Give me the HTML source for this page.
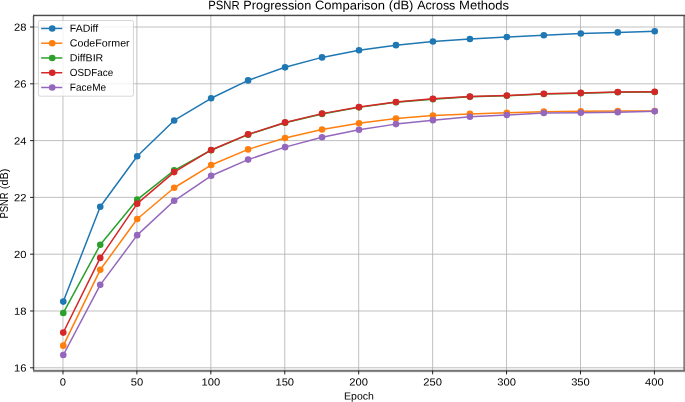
<!DOCTYPE html>
<html><head><meta charset="utf-8"><style>
html,body{margin:0;padding:0;background:#fff;width:685px;height:402px;overflow:hidden}
svg{display:block;will-change:transform;font-family:"Liberation Sans",sans-serif}
text{fill:#000}
</style></head><body>
<svg width="685" height="402" viewBox="0 0 685 402">
<rect width="685" height="402" fill="#fff"/>
<path d="M62.97 15.07V371.20M136.90 15.07V371.20M210.84 15.07V371.20M284.77 15.07V371.20M358.70 15.07V371.20M432.63 15.07V371.20M506.56 15.07V371.20M580.50 15.07V371.20M654.43 15.07V371.20M33.40 367.79H684.00M33.40 310.99H684.00M33.40 254.19H684.00M33.40 197.39H684.00M33.40 140.60H684.00M33.40 83.80H684.00M33.40 27.00H684.00" stroke="#b0b0b0" stroke-opacity="1.0" stroke-width="0.8" fill="none"/>
<polyline points="63.27,301.62 100.24,206.77 137.20,156.22 174.17,120.43 211.14,98.28 248.10,80.39 285.07,67.33 322.03,57.39 359.00,50.29 395.97,45.17 432.93,41.48 469.90,38.93 506.86,36.94 543.83,35.23 580.80,33.53 617.76,32.39 654.73,31.26" fill="none" stroke="#1f77b4" stroke-width="1.5" stroke-linejoin="round" stroke-linecap="square"/>
<g fill="#1f77b4"><circle cx="63.27" cy="301.62" r="3.3"/><circle cx="100.24" cy="206.77" r="3.3"/><circle cx="137.20" cy="156.22" r="3.3"/><circle cx="174.17" cy="120.43" r="3.3"/><circle cx="211.14" cy="98.28" r="3.3"/><circle cx="248.10" cy="80.39" r="3.3"/><circle cx="285.07" cy="67.33" r="3.3"/><circle cx="322.03" cy="57.39" r="3.3"/><circle cx="359.00" cy="50.29" r="3.3"/><circle cx="395.97" cy="45.17" r="3.3"/><circle cx="432.93" cy="41.48" r="3.3"/><circle cx="469.90" cy="38.93" r="3.3"/><circle cx="506.86" cy="36.94" r="3.3"/><circle cx="543.83" cy="35.23" r="3.3"/><circle cx="580.80" cy="33.53" r="3.3"/><circle cx="617.76" cy="32.39" r="3.3"/><circle cx="654.73" cy="31.26" r="3.3"/></g>
<polyline points="63.27,345.64 100.24,269.81 137.20,218.98 174.17,187.74 211.14,165.02 248.10,149.40 285.07,138.04 322.03,129.52 359.00,123.27 395.97,118.44 432.93,115.60 469.90,113.90 506.86,112.76 543.83,111.63 580.80,111.34 617.76,111.06 654.73,111.06" fill="none" stroke="#ff7f0e" stroke-width="1.5" stroke-linejoin="round" stroke-linecap="square"/>
<g fill="#ff7f0e"><circle cx="63.27" cy="345.64" r="3.3"/><circle cx="100.24" cy="269.81" r="3.3"/><circle cx="137.20" cy="218.98" r="3.3"/><circle cx="174.17" cy="187.74" r="3.3"/><circle cx="211.14" cy="165.02" r="3.3"/><circle cx="248.10" cy="149.40" r="3.3"/><circle cx="285.07" cy="138.04" r="3.3"/><circle cx="322.03" cy="129.52" r="3.3"/><circle cx="359.00" cy="123.27" r="3.3"/><circle cx="395.97" cy="118.44" r="3.3"/><circle cx="432.93" cy="115.60" r="3.3"/><circle cx="469.90" cy="113.90" r="3.3"/><circle cx="506.86" cy="112.76" r="3.3"/><circle cx="543.83" cy="111.63" r="3.3"/><circle cx="580.80" cy="111.34" r="3.3"/><circle cx="617.76" cy="111.06" r="3.3"/><circle cx="654.73" cy="111.06" r="3.3"/></g>
<polyline points="63.27,312.98 100.24,244.82 137.20,199.67 174.17,170.42 211.14,150.25 248.10,134.63 285.07,122.70 322.03,113.90 359.00,107.37 395.97,102.26 432.93,99.13 469.90,96.86 506.86,95.72 543.83,94.02 580.80,93.17 617.76,92.32 654.73,92.03" fill="none" stroke="#2ca02c" stroke-width="1.5" stroke-linejoin="round" stroke-linecap="square"/>
<g fill="#2ca02c"><circle cx="63.27" cy="312.98" r="3.3"/><circle cx="100.24" cy="244.82" r="3.3"/><circle cx="137.20" cy="199.67" r="3.3"/><circle cx="174.17" cy="170.42" r="3.3"/><circle cx="211.14" cy="150.25" r="3.3"/><circle cx="248.10" cy="134.63" r="3.3"/><circle cx="285.07" cy="122.70" r="3.3"/><circle cx="322.03" cy="113.90" r="3.3"/><circle cx="359.00" cy="107.37" r="3.3"/><circle cx="395.97" cy="102.26" r="3.3"/><circle cx="432.93" cy="99.13" r="3.3"/><circle cx="469.90" cy="96.86" r="3.3"/><circle cx="506.86" cy="95.72" r="3.3"/><circle cx="543.83" cy="94.02" r="3.3"/><circle cx="580.80" cy="93.17" r="3.3"/><circle cx="617.76" cy="92.32" r="3.3"/><circle cx="654.73" cy="92.03" r="3.3"/></g>
<polyline points="63.27,332.58 100.24,257.89 137.20,203.64 174.17,172.12 211.14,149.97 248.10,134.35 285.07,122.42 322.03,113.62 359.00,107.08 395.97,101.97 432.93,98.85 469.90,96.58 506.86,95.44 543.83,93.74 580.80,92.88 617.76,92.03 654.73,91.75" fill="none" stroke="#d62728" stroke-width="1.5" stroke-linejoin="round" stroke-linecap="square"/>
<g fill="#d62728"><circle cx="63.27" cy="332.58" r="3.3"/><circle cx="100.24" cy="257.89" r="3.3"/><circle cx="137.20" cy="203.64" r="3.3"/><circle cx="174.17" cy="172.12" r="3.3"/><circle cx="211.14" cy="149.97" r="3.3"/><circle cx="248.10" cy="134.35" r="3.3"/><circle cx="285.07" cy="122.42" r="3.3"/><circle cx="322.03" cy="113.62" r="3.3"/><circle cx="359.00" cy="107.08" r="3.3"/><circle cx="395.97" cy="101.97" r="3.3"/><circle cx="432.93" cy="98.85" r="3.3"/><circle cx="469.90" cy="96.58" r="3.3"/><circle cx="506.86" cy="95.44" r="3.3"/><circle cx="543.83" cy="93.74" r="3.3"/><circle cx="580.80" cy="92.88" r="3.3"/><circle cx="617.76" cy="92.03" r="3.3"/><circle cx="654.73" cy="91.75" r="3.3"/></g>
<polyline points="63.27,355.01 100.24,284.87 137.20,235.17 174.17,200.80 211.14,175.81 248.10,159.62 285.07,147.13 322.03,137.19 359.00,129.80 395.97,124.12 432.93,120.15 469.90,116.74 506.86,115.04 543.83,113.05 580.80,112.76 617.76,112.20 654.73,111.34" fill="none" stroke="#9467bd" stroke-width="1.5" stroke-linejoin="round" stroke-linecap="square"/>
<g fill="#9467bd"><circle cx="63.27" cy="355.01" r="3.3"/><circle cx="100.24" cy="284.87" r="3.3"/><circle cx="137.20" cy="235.17" r="3.3"/><circle cx="174.17" cy="200.80" r="3.3"/><circle cx="211.14" cy="175.81" r="3.3"/><circle cx="248.10" cy="159.62" r="3.3"/><circle cx="285.07" cy="147.13" r="3.3"/><circle cx="322.03" cy="137.19" r="3.3"/><circle cx="359.00" cy="129.80" r="3.3"/><circle cx="395.97" cy="124.12" r="3.3"/><circle cx="432.93" cy="120.15" r="3.3"/><circle cx="469.90" cy="116.74" r="3.3"/><circle cx="506.86" cy="115.04" r="3.3"/><circle cx="543.83" cy="113.05" r="3.3"/><circle cx="580.80" cy="112.76" r="3.3"/><circle cx="617.76" cy="112.20" r="3.3"/><circle cx="654.73" cy="111.34" r="3.3"/></g>
<g fill="#000" shape-rendering="crispEdges"><rect x="33" y="14" width="652" height="1" fill-opacity="0.2"/><rect x="33" y="15" width="652" height="1" fill-opacity="0.7"/><rect x="33" y="16" width="652" height="1" fill-opacity="0.12"/><rect x="33" y="369" width="652" height="1" fill-opacity="0.1"/><rect x="33" y="370" width="652" height="1" fill-opacity="0.55"/><rect x="33" y="371" width="652" height="1" fill-opacity="0.45"/><rect x="33" y="372" width="652" height="1" fill-opacity="0.06"/><rect x="32" y="16" width="1" height="354" fill-opacity="0.12"/><rect x="33" y="16" width="1" height="354" fill-opacity="0.66"/><rect x="34" y="16" width="1" height="354" fill-opacity="0.16"/><rect x="683" y="16" width="1" height="354" fill-opacity="0.34"/><rect x="684" y="16" width="1" height="354" fill-opacity="0.5"/></g>
<path d="M62.97 371.00v3.42M136.90 371.00v3.42M210.84 371.00v3.42M284.77 371.00v3.42M358.70 371.00v3.42M432.63 371.00v3.42M506.56 371.00v3.42M580.50 371.00v3.42M654.43 371.00v3.42M33.45 367.79h-3.42M33.45 310.99h-3.42M33.45 254.19h-3.42M33.45 197.39h-3.42M33.45 140.60h-3.42M33.45 83.80h-3.42M33.45 27.00h-3.42" stroke="#000" stroke-width="0.85" fill="none"/>
<g font-size="10.33"><text x="59.86" y="385.6" transform="rotate(0.05 59.86 385.6)" textLength="6.22" lengthAdjust="spacingAndGlyphs">0</text></g>
<g font-size="10.33"><text x="130.69" y="385.6" transform="rotate(0.05 130.69 385.6)" textLength="12.43" lengthAdjust="spacingAndGlyphs">50</text></g>
<g font-size="10.33"><text x="201.51" y="385.6" transform="rotate(0.05 201.51 385.6)" textLength="18.65" lengthAdjust="spacingAndGlyphs">100</text></g>
<g font-size="10.33"><text x="275.44" y="385.6" transform="rotate(0.05 275.44 385.6)" textLength="18.65" lengthAdjust="spacingAndGlyphs">150</text></g>
<g font-size="10.33"><text x="349.38" y="385.6" transform="rotate(0.05 349.38 385.6)" textLength="18.65" lengthAdjust="spacingAndGlyphs">200</text></g>
<g font-size="10.33"><text x="423.31" y="385.6" transform="rotate(0.05 423.31 385.6)" textLength="18.65" lengthAdjust="spacingAndGlyphs">250</text></g>
<g font-size="10.33"><text x="497.24" y="385.6" transform="rotate(0.05 497.24 385.6)" textLength="18.65" lengthAdjust="spacingAndGlyphs">300</text></g>
<g font-size="10.33"><text x="571.17" y="385.6" transform="rotate(0.05 571.17 385.6)" textLength="18.65" lengthAdjust="spacingAndGlyphs">350</text></g>
<g font-size="10.33"><text x="645.10" y="385.6" transform="rotate(0.05 645.10 385.6)" textLength="18.65" lengthAdjust="spacingAndGlyphs">400</text></g>
<g font-size="10.33"><text x="14.07" y="371.61" transform="rotate(0.05 14.07 371.61)" textLength="12.43" lengthAdjust="spacingAndGlyphs">16</text></g>
<g font-size="10.33"><text x="14.07" y="314.81" transform="rotate(0.05 14.07 314.81)" textLength="12.43" lengthAdjust="spacingAndGlyphs">18</text></g>
<g font-size="10.33"><text x="14.07" y="258.01" transform="rotate(0.05 14.07 258.01)" textLength="12.43" lengthAdjust="spacingAndGlyphs">20</text></g>
<g font-size="10.33"><text x="14.07" y="201.21" transform="rotate(0.05 14.07 201.21)" textLength="12.43" lengthAdjust="spacingAndGlyphs">22</text></g>
<g font-size="10.33"><text x="14.07" y="144.42" transform="rotate(0.05 14.07 144.42)" textLength="12.43" lengthAdjust="spacingAndGlyphs">24</text></g>
<g font-size="10.33"><text x="14.07" y="87.62" transform="rotate(0.05 14.07 87.62)" textLength="12.43" lengthAdjust="spacingAndGlyphs">26</text></g>
<g font-size="10.33"><text x="14.07" y="30.82" transform="rotate(0.05 14.07 30.82)" textLength="12.43" lengthAdjust="spacingAndGlyphs">28</text></g>
<g font-size="10.33"><text x="344.04" y="399.6" transform="rotate(0.05 344.04 399.6)" textLength="29.92" lengthAdjust="spacingAndGlyphs">Epoch</text></g>
<text y="0" font-size="10.33" transform="translate(7.7 193.6) rotate(-90)"><tspan x="-24.91" textLength="26.19" lengthAdjust="spacingAndGlyphs">PSNR</tspan><tspan x="4.38" textLength="20.53" lengthAdjust="spacingAndGlyphs">(dB)</tspan></text>
<g font-size="12.4"><text x="208.25" y="9.35" transform="rotate(0.05 208.25 9.35)" textLength="31.41" lengthAdjust="spacingAndGlyphs">PSNR</text><text x="243.39" y="9.35" transform="rotate(0.05 243.39 9.35)" textLength="67.85" lengthAdjust="spacingAndGlyphs">Progression</text><text x="314.96" y="9.35" transform="rotate(0.05 314.96 9.35)" textLength="70.15" lengthAdjust="spacingAndGlyphs">Comparison</text><text x="388.84" y="9.35" transform="rotate(0.05 388.84 9.35)" textLength="24.62" lengthAdjust="spacingAndGlyphs">(dB)</text><text x="417.19" y="9.35" transform="rotate(0.05 417.19 9.35)" textLength="38.19" lengthAdjust="spacingAndGlyphs">Across</text><text x="459.10" y="9.35" transform="rotate(0.05 459.10 9.35)" textLength="50.05" lengthAdjust="spacingAndGlyphs">Methods</text></g>
<rect x="38.45" y="20.5" width="95.00" height="75.70" rx="1.8" fill="#fff" fill-opacity="0.8" stroke="#c4c4c4" stroke-opacity="0.8" stroke-width="0.85"/>
<path d="M41.9 28.45H61.5" stroke="#1f77b4" stroke-width="1.5" stroke-linecap="square"/>
<circle cx="52.2" cy="28.45" r="3.3" fill="#1f77b4"/>
<text x="69.8" y="31.71" transform="rotate(0.05 69.8 31.71)" font-size="10.33" textLength="28.44" lengthAdjust="spacingAndGlyphs">FADiff</text>
<path d="M41.9 43.21H61.5" stroke="#ff7f0e" stroke-width="1.5" stroke-linecap="square"/>
<circle cx="52.2" cy="43.21" r="3.3" fill="#ff7f0e"/>
<text x="69.8" y="46.47" transform="rotate(0.05 69.8 46.47)" font-size="10.33" textLength="59.83" lengthAdjust="spacingAndGlyphs">CodeFormer</text>
<path d="M41.9 57.97H61.5" stroke="#2ca02c" stroke-width="1.5" stroke-linecap="square"/>
<circle cx="52.2" cy="57.97" r="3.3" fill="#2ca02c"/>
<text x="69.8" y="61.23" transform="rotate(0.05 69.8 61.23)" font-size="10.33" textLength="33.47" lengthAdjust="spacingAndGlyphs">DiffBIR</text>
<path d="M41.9 72.73H61.5" stroke="#d62728" stroke-width="1.5" stroke-linecap="square"/>
<circle cx="52.2" cy="72.73" r="3.3" fill="#d62728"/>
<text x="69.8" y="75.99" transform="rotate(0.05 69.8 75.99)" font-size="10.33" textLength="43.34" lengthAdjust="spacingAndGlyphs">OSDFace</text>
<path d="M41.9 87.49H61.5" stroke="#9467bd" stroke-width="1.5" stroke-linecap="square"/>
<circle cx="52.2" cy="87.49" r="3.3" fill="#9467bd"/>
<text x="69.8" y="90.75" transform="rotate(0.05 69.8 90.75)" font-size="10.33" textLength="36.30" lengthAdjust="spacingAndGlyphs">FaceMe</text>
</svg>
</body></html>
